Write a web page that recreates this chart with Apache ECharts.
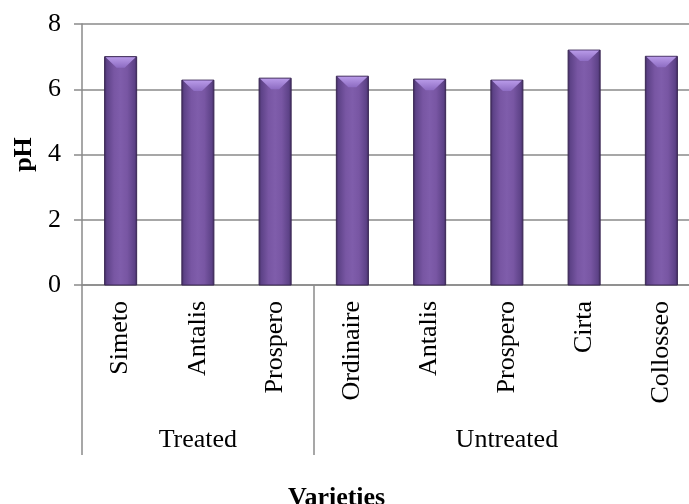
<!DOCTYPE html>
<html>
<head>
<meta charset="utf-8">
<script src="https://cdn.jsdelivr.net/npm/echarts@6/dist/echarts.min.js"></script>
<style>
  html, body { margin: 0; padding: 0; background: #fff; overflow: hidden; }
  #chart { width: 720px; height: 504px; }
</style>
</head>
<body>
<div id="chart"></div>
<script>
// Varieties along the category axis, in display order
const varieties = ['Simeto', 'Antalis', 'Prospero', 'Ordinaire', 'Antalis', 'Prospero', 'Cirta', 'Collosseo'];
// pH measured for each variety
const phValues = [7.0, 6.28, 6.34, 6.40, 6.31, 6.28, 7.2, 7.01];
// Treatment groups and how many varieties each spans
const groupNames = ['Treated', 'Untreated'];
const groupSizes = [3, 5];
// Value axis ticks
const yTicks = [0, 2, 4, 6, 8];

const FONT = "'Liberation Serif', 'Times New Roman', serif";
const GRID_GRAY = '#8a8a8a';

// Index where each group starts, and the middle index that carries its label
const groupStarts = [];
const groupLabelAt = varieties.map(() => '');
let start = 0;
groupSizes.forEach((n, g) => {
  groupStarts.push(start);
  groupLabelAt[start + Math.floor(n / 2)] = groupNames[g];
  start += n;
});

const bodyFill = new echarts.graphic.LinearGradient(0, 0, 1, 0, [
  { offset: 0, color: '#3d2959' },
  { offset: 0.08, color: '#5d4287' },
  { offset: 0.3, color: '#7856a3' },
  { offset: 0.5, color: '#7f5dab' },
  { offset: 0.7, color: '#7856a3' },
  { offset: 0.92, color: '#5d4287' },
  { offset: 1, color: '#3d2959' }
]);
const bevelFill = new echarts.graphic.LinearGradient(0, 0, 0, 1, [
  { offset: 0, color: '#b89ae8' },
  { offset: 1, color: '#8d6cc2' }
]);

// Bevelled column: body with side shading plus a light chamfer on top
function renderBar(params, api) {
  const idx = api.value(0);
  const v = api.value(1);
  const top = api.coord([idx, v]);
  const base = api.coord([idx, 0]);
  const w = api.size([1, 0])[0] * 0.415;
  const x0 = top[0] - w / 2;
  const x1 = top[0] + w / 2;
  const yT = top[1];
  const yB = base[1];
  const b = Math.min(11, (yB - yT) / 2);
  return {
    type: 'group',
    children: [
      {
        type: 'rect',
        shape: { x: x0, y: yT, width: w, height: yB - yT },
        style: { fill: bodyFill, stroke: '#3a2754', lineWidth: 1 }
      },
      {
        type: 'polygon',
        shape: { points: [[x0 + 1, yT + 0.5], [x1 - 1, yT + 0.5], [top[0] + 4, yT + b], [top[0] - 4, yT + b]] },
        style: { fill: bevelFill }
      }
    ]
  };
}

const chart = echarts.init(document.getElementById('chart'), null, { renderer: 'canvas' });
chart.setOption({
  animation: false,
  backgroundColor: '#fff',
  grid: { left: 82, top: 24, width: 618, bottom: 219, containLabel: false },
  xAxis: [
    {
      type: 'category',
      data: varieties,
      position: 'bottom',
      boundaryGap: true,
      axisLine: { show: true, lineStyle: { color: GRID_GRAY, width: 1.5 } },
      axisTick: {
        show: true,
        length: 170,
        interval: (i) => groupStarts.indexOf(i) >= 0,
        lineStyle: { color: GRID_GRAY, width: 1.5 }
      },
      axisLabel: {
        interval: 0,
        rotate: 90,
        margin: 16,
        color: '#000',
        fontSize: 26,
        fontFamily: FONT
      },
      splitLine: { show: false }
    },
    {
      type: 'category',
      data: varieties,
      position: 'bottom',
      boundaryGap: true,
      axisLine: { show: false },
      axisTick: { show: false },
      axisLabel: {
        interval: 0,
        margin: 142,
        color: '#000',
        fontSize: 26,
        fontFamily: FONT,
        formatter: (value, i) => groupLabelAt[i]
      },
      splitLine: { show: false }
    }
  ],
  yAxis: {
    type: 'value',
    min: yTicks[0],
    max: yTicks[yTicks.length - 1],
    interval: yTicks[1] - yTicks[0],
    name: 'pH',
    nameLocation: 'middle',
    nameRotate: 90,
    nameGap: 45,
    nameTextStyle: { color: '#000', fontSize: 26, fontWeight: 'bold', fontFamily: FONT },
    axisLine: { show: true, lineStyle: { color: GRID_GRAY, width: 1.5 } },
    axisTick: { show: true, length: 8, inside: false, lineStyle: { color: GRID_GRAY, width: 1.5 } },
    axisLabel: { margin: 21, color: '#000', fontSize: 26, fontFamily: FONT },
    splitLine: { show: true, lineStyle: { color: GRID_GRAY, width: 1.5 } }
  },
  graphic: [
    {
      type: 'text',
      left: 340 - 52,
      top: 485,
      style: { text: 'Varieties', fill: '#000', font: 'bold 26px ' + FONT }
    }
  ],
  series: [
    {
      type: 'custom',
      xAxisIndex: 0,
      renderItem: renderBar,
      data: phValues.map((v, i) => [i, v]),
      encode: { x: 0, y: 1 },
      z: 3
    }
  ]
});
</script>
</body>
</html>
